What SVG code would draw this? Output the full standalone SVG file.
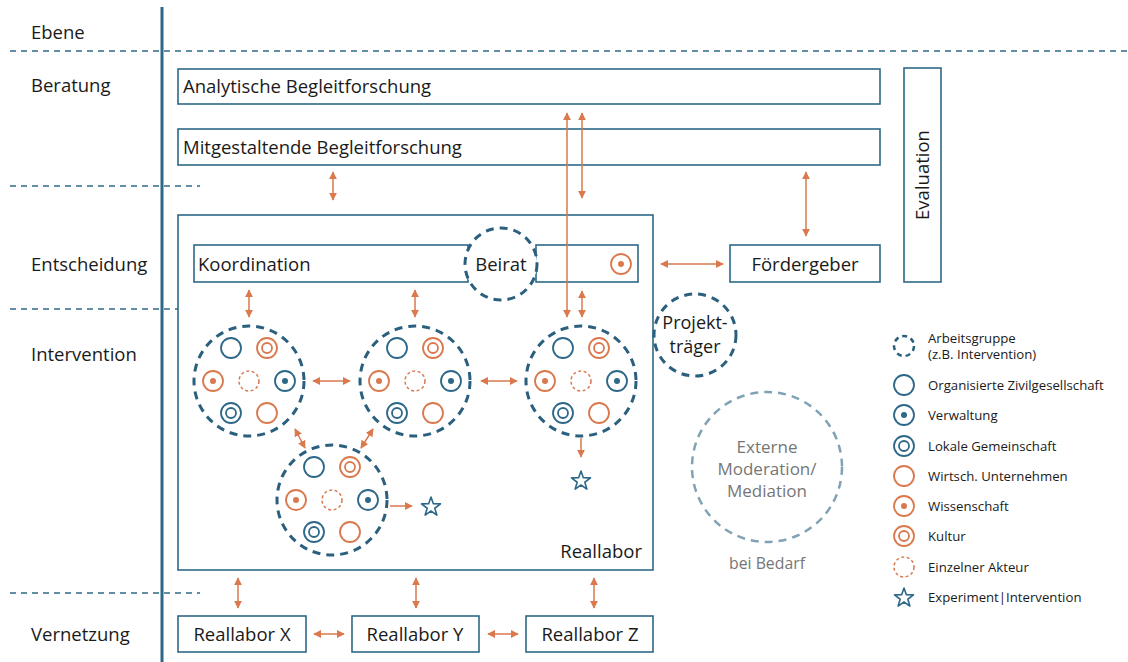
<svg xmlns="http://www.w3.org/2000/svg" width="1128" height="662" viewBox="0 0 1128 662">
<defs>
<style>
text{font-family:"Open Sans","Noto Sans","Liberation Sans",sans-serif;fill:#1a1a1a}
.lbl{font-size:18.5px}
.pt{font-size:18px}
.mod{font-size:17px;fill:#767676}
.box{fill:#fff;stroke:#2e6888;stroke-width:1.6}
.sep{stroke:#2e6888;stroke-width:1.3;stroke-dasharray:6 5;fill:none}
.grp{fill:#fff;stroke:#2a5f7e;stroke-width:3;stroke-dasharray:8 6}
.b{fill:none;stroke:#2e6888;stroke-width:1.8}
.o{fill:none;stroke:#d9794d;stroke-width:1.8}
.od{fill:none;stroke:#d9794d;stroke-width:1.5;stroke-dasharray:3 2.5}
.bd{fill:#2e6888}
.odot{fill:#d9794d}
.arr{stroke:#d9794d;stroke-width:1.5;fill:none;marker-start:url(#ah);marker-end:url(#ah)}
.arr1{stroke:#d9794d;stroke-width:1.5;fill:none;marker-end:url(#ah)}
.leg{font-size:13.2px}
</style>
<marker id="ah" viewBox="0 0 10 10" refX="9" refY="5" markerWidth="8" markerHeight="8" markerUnits="userSpaceOnUse" orient="auto-start-reverse">
<path d="M0,0 L10,5 L0,10 z" fill="#d9794d"/>
</marker>
<g id="g-icons">
<circle class="b" cx="-18" cy="-33" r="10"/>
<circle class="o" cx="18" cy="-33" r="10"/><circle class="o" cx="18" cy="-33" r="5"/>
<circle class="o" cx="-36" cy="0" r="10"/><circle class="odot" cx="-36" cy="0" r="3"/>
<circle class="od" cx="0" cy="0" r="10"/>
<circle class="b" cx="36" cy="0" r="10"/><circle class="bd" cx="36" cy="0" r="3"/>
<circle class="b" cx="-18" cy="32" r="10"/><circle class="b" cx="-18" cy="32" r="5"/>
<circle class="o" cx="18" cy="32" r="10"/>
</g>
<path id="star" d="M0,-10 L2.35,-3.24 L9.51,-3.09 L3.8,1.24 L5.88,8.09 L0,4 L-5.88,8.09 L-3.8,1.24 L-9.51,-3.09 L-2.35,-3.24 Z" fill="none" stroke="#2e6888" stroke-width="1.6" stroke-linejoin="round"/>
</defs>
<rect width="1128" height="662" fill="#fff"/>

<g id="axes">
<line x1="162" y1="7" x2="162" y2="662" stroke="#2e6888" stroke-width="3"/>
<line class="sep" x1="10" y1="51" x2="1128" y2="51"/>
<line class="sep" x1="10" y1="186" x2="200" y2="186"/>
<line class="sep" x1="10" y1="309" x2="200" y2="309"/>
<line class="sep" x1="10" y1="593" x2="200" y2="593"/>
<text class="lbl" x="31" y="39">Ebene</text>
<text class="lbl" x="31" y="92">Beratung</text>
<text class="lbl" x="31" y="271">Entscheidung</text>
<text class="lbl" x="31" y="361">Intervention</text>
<text class="lbl" x="31" y="641">Vernetzung</text>
</g>

<g id="analytische">
<rect class="box" x="178" y="69" width="702" height="35"/>
<text class="lbl" x="183" y="93">Analytische Begleitforschung</text>
</g>
<g id="mitgestaltende">
<rect class="box" x="178" y="129" width="702" height="36"/>
<text class="lbl" x="183" y="154">Mitgestaltende Begleitforschung</text>
</g>
<g id="evaluation">
<rect class="box" x="904" y="68" width="37" height="214"/>
<text class="lbl" transform="translate(929,175) rotate(-90)" text-anchor="middle">Evaluation</text>
</g>

<g id="reallabor">
<rect class="box" x="178" y="215" width="475" height="355"/>
<text class="lbl" x="642" y="558" text-anchor="end">Reallabor</text>
</g>

<g id="koordination">
<rect class="box" x="194" y="245" width="274" height="37"/>
<rect class="box" x="536" y="245" width="102" height="37"/>
<text class="lbl" x="198" y="271">Koordination</text>
<circle class="o" cx="621" cy="264" r="10"/><circle class="odot" cx="621" cy="264" r="3"/>
</g>
<g id="beirat">
<circle class="grp" cx="501" cy="264" r="36"/>
<text class="lbl" x="501" y="271" text-anchor="middle">Beirat</text>
</g>
<g id="foerdergeber">
<rect class="box" x="730" y="245" width="150" height="37"/>
<text class="lbl" x="805" y="271" text-anchor="middle">Fördergeber</text>
</g>
<g id="projekttraeger">
<circle class="grp" cx="695" cy="335" r="41"/>
<text class="pt" x="695" y="329" text-anchor="middle">Projekt-</text>
<text class="pt" x="695" y="353" text-anchor="middle">träger</text>
</g>
<g id="moderation">
<circle cx="767" cy="467" r="75" fill="none" stroke="#7fa2b4" stroke-width="2.5" stroke-dasharray="8 6"/>
<text class="mod" x="767" y="453" text-anchor="middle">Externe</text>
<text class="mod" x="767" y="475" text-anchor="middle">Moderation/</text>
<text class="mod" x="767" y="497" text-anchor="middle">Mediation</text>
<text x="767" y="569" text-anchor="middle" style="fill:#767676;font-size:15.8px">bei Bedarf</text>
</g>

<g id="group1"><circle class="grp" cx="249" cy="381" r="55"/><use href="#g-icons" x="249" y="381"/></g>
<g id="group2"><circle class="grp" cx="415" cy="381" r="55"/><use href="#g-icons" x="415" y="381"/></g>
<g id="group3"><circle class="grp" cx="581" cy="381" r="55"/><use href="#g-icons" x="581" y="381"/></g>
<g id="group4"><circle class="grp" cx="332" cy="500" r="55"/><use href="#g-icons" x="332" y="500"/></g>
<g id="star1"><use href="#star" x="431" y="507"/></g>
<g id="star2"><use href="#star" x="581" y="481"/></g>

<g id="rlx"><rect class="box" x="178" y="616" width="128" height="36"/><text class="lbl" x="242" y="641" text-anchor="middle">Reallabor X</text></g>
<g id="rly"><rect class="box" x="352" y="616" width="127" height="36"/><text class="lbl" x="415" y="641" text-anchor="middle">Reallabor Y</text></g>
<g id="rlz"><rect class="box" x="526" y="616" width="127" height="36"/><text class="lbl" x="590" y="641" text-anchor="middle">Reallabor Z</text></g>

<g id="connectors">
<line class="arr" x1="567" y1="113" x2="567" y2="317"/>
<line class="arr" x1="582" y1="113" x2="582" y2="198"/>
<line class="arr" x1="333" y1="172" x2="333" y2="200"/>
<line class="arr" x1="806" y1="172" x2="806" y2="236"/>
<line class="arr" x1="661" y1="264" x2="723" y2="264"/>
<line class="arr" x1="249" y1="290" x2="249" y2="317"/>
<line class="arr" x1="415" y1="290" x2="415" y2="317"/>
<line class="arr" x1="582" y1="291" x2="582" y2="317"/>
<line class="arr" x1="313" y1="381" x2="350" y2="381"/>
<line class="arr" x1="481" y1="381" x2="517" y2="381"/>
<line class="arr" x1="295" y1="429" x2="305" y2="448"/>
<line class="arr" x1="373" y1="429" x2="361" y2="448"/>
<line class="arr1" x1="390" y1="506" x2="412" y2="506"/>
<line class="arr1" x1="581" y1="438" x2="581" y2="457"/>
<line class="arr" x1="238" y1="578" x2="238" y2="608"/>
<line class="arr" x1="416" y1="578" x2="416" y2="608"/>
<line class="arr" x1="594" y1="578" x2="594" y2="608"/>
<line class="arr" x1="314" y1="634" x2="344" y2="634"/>
<line class="arr" x1="488" y1="634" x2="518" y2="634"/>
</g>

<g id="legend">
<circle cx="904" cy="346" r="10" fill="none" stroke="#2a5f7e" stroke-width="2.5" stroke-dasharray="5 4"/>
<text class="leg" x="928" y="343">Arbeitsgruppe</text>
<text class="leg" x="928" y="359">(z.B. Intervention)</text>
<circle class="b" cx="904" cy="385" r="10"/>
<text class="leg" x="928" y="390">Organisierte Zivilgesellschaft</text>
<circle class="b" cx="904" cy="415" r="10"/><circle class="bd" cx="904" cy="415" r="3"/>
<text class="leg" x="928" y="420">Verwaltung</text>
<circle class="b" cx="904" cy="446" r="10"/><circle class="b" cx="904" cy="446" r="5"/>
<text class="leg" x="928" y="451">Lokale Gemeinschaft</text>
<circle class="o" cx="904" cy="476" r="10"/>
<text class="leg" x="928" y="481">Wirtsch. Unternehmen</text>
<circle class="o" cx="904" cy="506" r="10"/><circle class="odot" cx="904" cy="506" r="3"/>
<text class="leg" x="928" y="511">Wissenschaft</text>
<circle class="o" cx="904" cy="536" r="10"/><circle class="o" cx="904" cy="536" r="5"/>
<text class="leg" x="928" y="541">Kultur</text>
<circle class="od" cx="904" cy="567" r="10"/>
<text class="leg" x="928" y="572">Einzelner Akteur</text>
<use href="#star" x="904" y="598"/>
<text class="leg" x="928" y="602">Experiment|Intervention</text>
</g>
</svg>
